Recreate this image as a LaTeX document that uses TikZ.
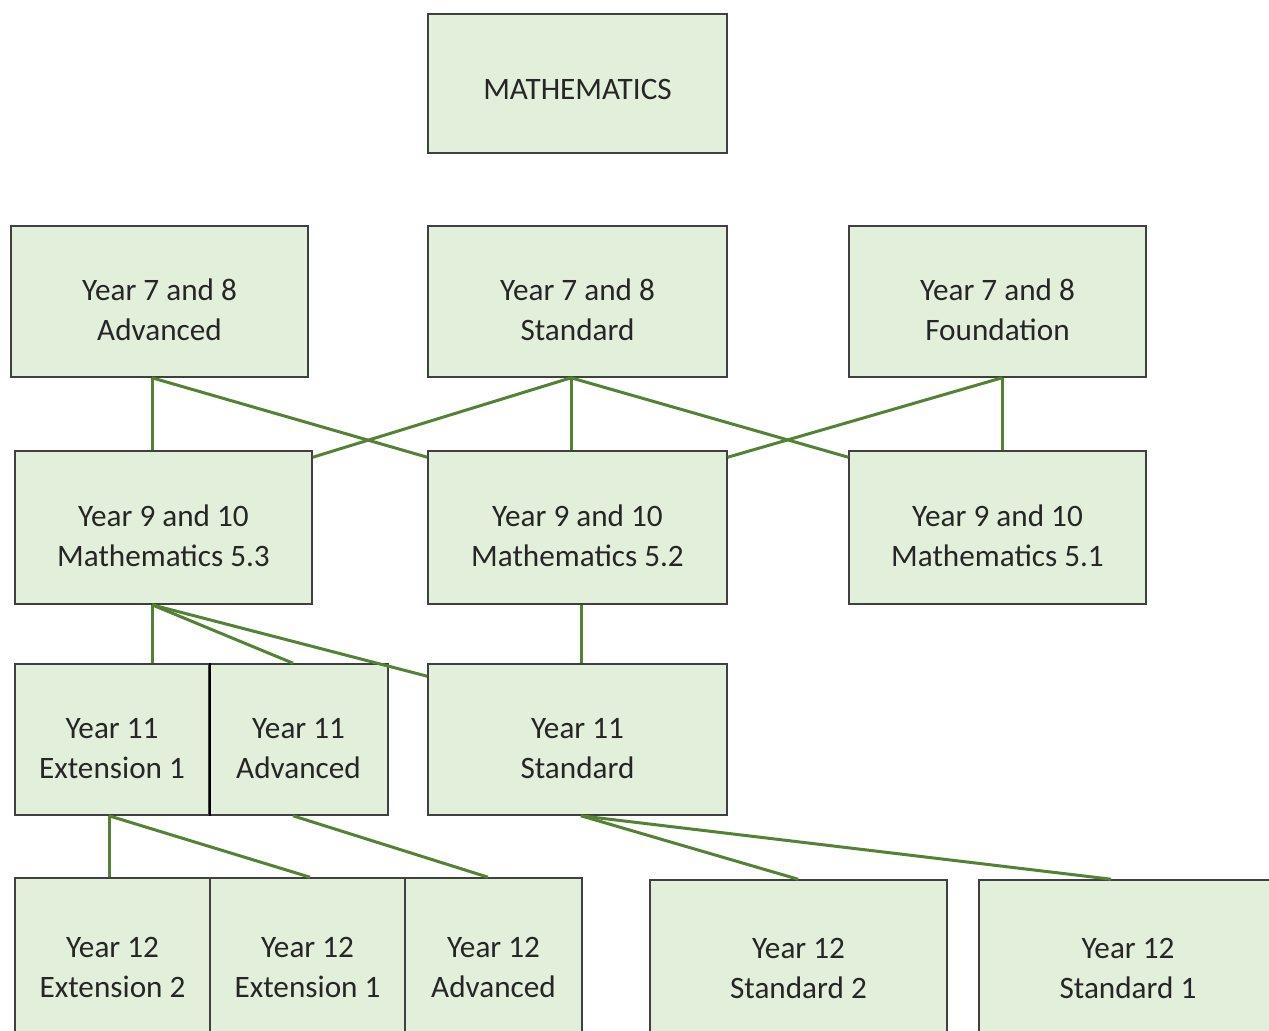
\documentclass[tikz,border=0pt]{standalone}
\usepackage{fontspec}
\setmainfont{Carlito}
\usetikzlibrary{calc}
\definecolor{boxfill}{HTML}{E2EFDA}
\definecolor{boxline}{HTML}{404040}
\definecolor{boxtext}{HTML}{262626}
\definecolor{linkgreen}{HTML}{548235}
\begin{document}
\begin{tikzpicture}[x=0.5pt,y=-0.5pt,
    textdrop/.code={\def\droph{#1pt}},
    box/.style 2 args={draw=boxline,line width=0.8pt,fill=boxfill,inner sep=0pt,align=center,
      text=boxtext,minimum width=#1pt,minimum height=#2pt,font=\fontsize{15.6}{20}\selectfont,
      textdrop=39.5,execute at begin node={\rule{0pt}{\droph}}},
    link/.style={draw=linkgreen,line width=1.5pt}]
      \useasboundingbox (0,0) rectangle (1269,1030);
      \draw
        (577.5,83.5) node[box={149.5}{69.5},textdrop=16] (math){MATHEMATICS}
        (159.5,301.5) node[box={148.5}{75.5}] (adv78){Year 7 and 8\\Advanced}
        (577.5,301.5) node[box={149.5}{75.5}] (std78){Year 7 and 8\\Standard}
        (997.5,301.5) node[box={148.5}{75.5}] (fnd78){Year 7 and 8\\Foundation}
        (163.5,527.5) node[box={148.5}{76.5}] (m53){Year 9 and 10\\Mathematics 5.3}
        (577.5,527.5) node[box={149.5}{76.5}] (m52){Year 9 and 10\\Mathematics 5.2}
        (997.5,527.5) node[box={148.5}{76.5}] (m51){Year 9 and 10\\Mathematics 5.1}
        (112,739.5) node[box={97}{75.5}] (ext11){Year 11\\Extension 1}
        (298.5,739.5) node[box={89.5}{75.5}] (adv11){Year 11\\Advanced}
        (577.5,739.5) node[box={149.5}{75.5}] (std11){Year 11\\Standard}
        (112.5,958) node[box={97.5}{80}] (ext212){Year 12\\Extension 2}
        (307.5,958) node[box={97.5}{80}] (ext112){Year 12\\Extension 1}
        (493.5,958) node[box={88.5}{80}] (adv12){Year 12\\Advanced}
        (798.5,959) node[box={148.5}{79}] (std212){Year 12\\Standard 2}
        (1128,959) node[box={149}{79}] (std112){Year 12\\Standard 1};
      \draw[black,line width=1.1pt] (ext11.north east) to (ext11.south east);
      \begin{scope}[link]
        \draw ($(adv78.south)+(-7.5,0)$) to ($(m53.north)+(-11.5,0)$);
        \draw ($(adv78.south)+(-7.5,0)$) to ($(m52.north west)+(0,7)$);
        \draw ($(std78.south)+(-6.5,0)$) to ($(m53.north east)+(0,7)$);
        \draw ($(std78.south)+(-6.5,0)$) to ($(m52.north)+(-6.5,0)$);
        \draw ($(std78.south)+(-6.5,0)$) to ($(m51.north west)+(0,7)$);
        \draw ($(fnd78.south)+(4.5,0)$) to ($(m52.north east)+(0,7)$);
        \draw ($(fnd78.south)+(4.5,0)$) to ($(m51.north)+(4.5,0)$);
        \draw ($(m53.south)+(-11.5,0)$) to ($(ext11.north)+(40,0)$);
        \draw ($(m53.south)+(-11.5,0)$) to ($(adv11.north)+(-5.5,0)$);
        \draw ($(m53.south)+(-11.5,0)$) to ($(std11.north west)+(0,13)$);
        \draw ($(m52.south)+(3.5,0)$) to ($(std11.north)+(3.5,0)$);
        \draw ($(ext11.south)+(-3,0)$) to ($(ext212.north)+(-3.5,0)$);
        \draw ($(ext11.south)+(-3,0)$) to ($(ext112.north)+(2.5,0)$);
        \draw ($(adv11.south)+(-5.5,0)$) to ($(adv12.north)+(-5.5,0)$);
        \draw ($(std11.south)+(3.5,0)$) to ($(std212.north)+(-0.5,0)$);
        \draw ($(std11.south)+(3.5,0)$) to ($(std112.north)+(-17,0)$);
      \end{scope}
    \end{tikzpicture}
\end{document}
